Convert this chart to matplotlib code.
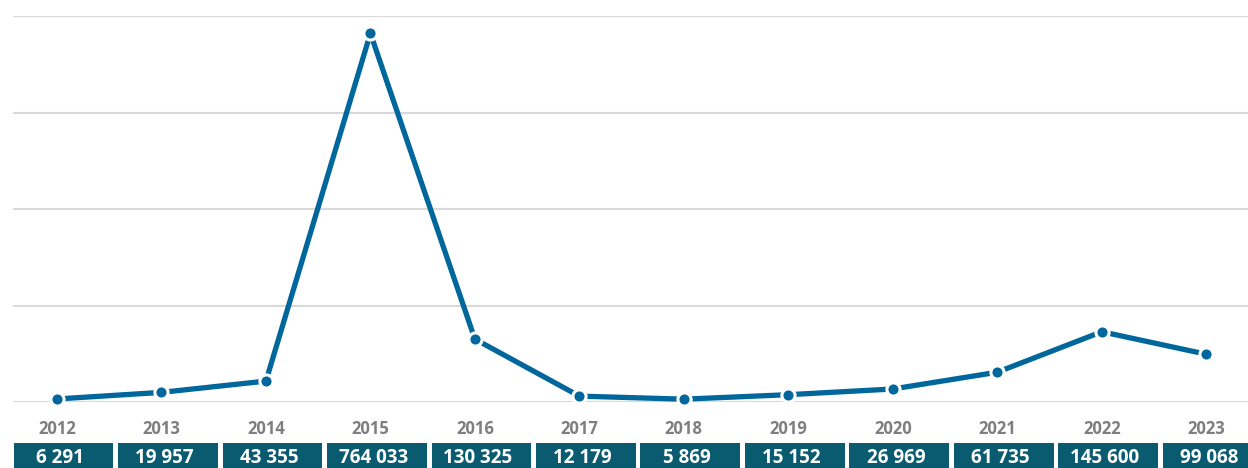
import matplotlib
matplotlib.use("Agg")
import matplotlib.pyplot as plt
from matplotlib.patches import Rectangle
from matplotlib.transforms import blended_transform_factory

years = ["2012", "2013", "2014", "2015", "2016", "2017", "2018", "2019", "2020", "2021", "2022", "2023"]
values = [6291, 19957, 43355, 764033, 130325, 12179, 5869, 15152, 26969, 61735, 145600, 99068]
value_labels = ["6 291", "19 957", "43 355", "764 033", "130 325", "12 179", "5 869",
                "15 152", "26 969", "61 735", "145 600", "99 068"]

W, H = 1248, 468
fig = plt.figure(figsize=(W / 100, H / 100), dpi=100)
ax = fig.add_axes([13 / W, 1 - 402 / H, 1 - 13 / W, (402 - 16) / H])

x = list(range(len(years)))
ax.set_xlim(-0.421, 11.40)
ax.set_ylim(0, 800000)
ax.set_yticks([0, 200000, 400000, 600000, 800000])
ax.grid(axis="y", color="#d9d9d9", linewidth=1.5)
ax.set_axisbelow(True)
for s in ax.spines.values():
    s.set_visible(False)
ax.tick_params(left=False, bottom=False, labelleft=False, labelbottom=False)

ax.plot(x, values, color="#00679c", linewidth=3.8, solid_capstyle="butt",
        marker="o", markersize=9.5, markerfacecolor="#00679c",
        markeredgecolor="white", markeredgewidth=2.2, clip_on=False, zorder=3)

tr = blended_transform_factory(ax.transData, fig.transFigure)
font = "Open Sans"
for i, (yr, lab) in enumerate(zip(years, value_labels)):
    ax.text(i, 1 - 429 / H, yr, transform=tr, ha="center", va="center",
            fontsize=12, fontweight="bold", color="#7f7f7f", family=font, clip_on=False)
    rect = Rectangle((i - 0.445 + 0.03, 0), 0.955, 1 - 443 / H, transform=tr,
                     facecolor="#0a5a70", edgecolor="none", clip_on=False, zorder=4)
    ax.add_patch(rect)
    ax.text(i + 0.03, 1 - 458 / H, lab, transform=tr, ha="center", va="center",
            fontsize=13.5, fontweight="bold", color="white", family=font, clip_on=False, zorder=5)

fig.savefig("out.png", dpi=100)
